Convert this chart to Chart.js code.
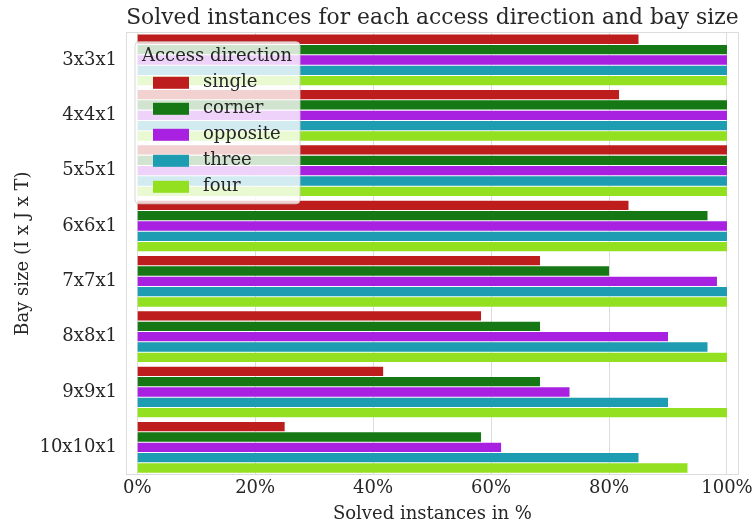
<!DOCTYPE html>
<html>
<head>
<meta charset="utf-8">
<title>Solved instances</title>
<script src="https://cdn.jsdelivr.net/npm/chart.js@4.4.1/dist/chart.umd.min.js"></script>
<style>
    html, body { margin: 0; padding: 0; background: #ffffff; }
    #wrap { width: 756px; height: 528px; }
</style>
</head>
<body>
<div id="wrap"><canvas id="chart" width="756" height="528"></canvas></div>
<script>
// Bay sizes (y categories)
const baySizes = ['3x3x1', '4x4x1', '5x5x1', '6x6x1', '7x7x1', '8x8x1', '9x9x1', '10x10x1'];

// Solved instances in % per access direction
const single   = [85.0, 81.7, 100, 83.3, 68.3, 58.3, 41.7, 25.0];
const corner   = [100, 100, 100, 96.7, 80.0, 68.3, 68.3, 58.3];
const opposite = [100, 100, 100, 100, 98.3, 90.0, 73.3, 61.7];
const three    = [100, 100, 100, 100, 100, 96.7, 90.0, 85.0];
const four     = [100, 100, 100, 100, 100, 100, 100, 93.3];

const xTicks = [0, 20, 40, 60, 80, 100];

const TITLE = 'Solved instances for each access direction and bay size';
const SERIF = '"DejaVu Serif", "Liberation Serif", serif';
const TEXT = '#262626';
const GRID = '#dcdcdc';

// Title centred over the plot area (matplotlib style), not the canvas
const plotTitle = {
    id: 'plotTitle',
    afterDraw(chart) {
        const a = chart.chartArea;
        const ctx = chart.ctx;
        ctx.save();
        ctx.fillStyle = TEXT;
        ctx.font = '21.8px ' + SERIF;
        ctx.textAlign = 'center';
        ctx.textBaseline = 'middle';
        ctx.fillText(TITLE, (a.left + a.right) / 2, 18);
        ctx.restore();
    }
};

// Legend drawn inside the plot, like the matplotlib one
const insideLegend = {
    id: 'insideLegend',
    afterDatasetsDraw(chart) {
        const ctx = chart.ctx;
        const area = chart.chartArea;
        const x = area.left + 9, y = area.top + 9.5;
        const w = 165, h = 162;
        ctx.save();
        ctx.beginPath();
        ctx.roundRect(x, y, w, h, 4);
        ctx.fillStyle = 'rgba(255,255,255,0.8)';
        ctx.fill();
        ctx.strokeStyle = 'rgba(204,204,204,0.8)';
        ctx.lineWidth = 1;
        ctx.stroke();

        ctx.fillStyle = TEXT;
        ctx.font = '18px ' + SERIF;
        ctx.textBaseline = 'middle';
        ctx.textAlign = 'left';
        ctx.fillText('Access direction', x + 7, y + 15);

        chart.data.datasets.forEach((ds, i) => {
            const cy = y + 41 + i * 26;
            ctx.fillStyle = ds.backgroundColor;
            ctx.fillRect(x + 18, cy - 6, 36, 12);
            ctx.fillStyle = TEXT;
            ctx.fillText(ds.label, x + 68, cy);
        });
        ctx.restore();
    }
};

// Light frame round the plot area
const frame = {
    id: 'frame',
    afterDraw(chart) {
        const a = chart.chartArea;
        const ctx = chart.ctx;
        ctx.save();
        ctx.strokeStyle = GRID;
        ctx.lineWidth = 1;
        ctx.strokeRect(Math.round(a.left) + 0.5, Math.round(a.top) + 0.5,
            Math.round(a.right - a.left) - 1, Math.round(a.bottom - a.top) - 1);
        ctx.restore();
    }
};

const colors = ['#bd1d1d', '#157815', '#a821e0', '#1e9cb2', '#93e021'];
const labels = ['single', 'corner', 'opposite', 'three', 'four'];
const series = [single, corner, opposite, three, four];

new Chart(document.getElementById('chart'), {
    type: 'bar',
    data: {
        labels: baySizes,
        datasets: series.map((s, i) => ({
            label: labels[i],
            data: s,
            backgroundColor: colors[i],
            borderWidth: 0,
            barPercentage: 0.9,
            categoryPercentage: 0.935
        }))
    },
    options: {
        indexAxis: 'y',
        responsive: false,
        animation: false,
        layout: { padding: { left: 0, right: 15, top: 32.3, bottom: 0 } },
        plugins: {
            legend: { display: false },
            tooltip: { enabled: false },
            title: { display: false }
        },
        scales: {
            x: {
                min: -1.9,
                max: 102,
                afterBuildTicks: axis => { axis.ticks = xTicks.map(v => ({ value: v })); },
                afterFit: scale => { scale.height = 53; },
                grid: { color: GRID, drawTicks: false },
                border: { display: false },
                ticks: {
                    color: TEXT,
                    padding: 3,
                    font: { family: SERIF, size: 18 },
                    callback: v => v + '%'
                },
                title: {
                    display: true,
                    text: 'Solved instances in %',
                    color: TEXT,
                    font: { family: SERIF, size: 18 },
                    padding: { top: 0, bottom: 3 }
                }
            },
            y: {
                afterFit: scale => { scale.width = 126; },
                grid: { display: false, drawTicks: false },
                border: { display: false },
                ticks: {
                    color: TEXT,
                    padding: 9,
                    font: { family: SERIF, size: 18 }
                },
                title: {
                    display: true,
                    text: 'Bay size (I x J x T)',
                    color: TEXT,
                    font: { family: SERIF, size: 18 },
                    padding: { top: 13, bottom: 0 }
                }
            }
        }
    },
    plugins: [insideLegend, frame, plotTitle]
});
</script>
</body>
</html>
